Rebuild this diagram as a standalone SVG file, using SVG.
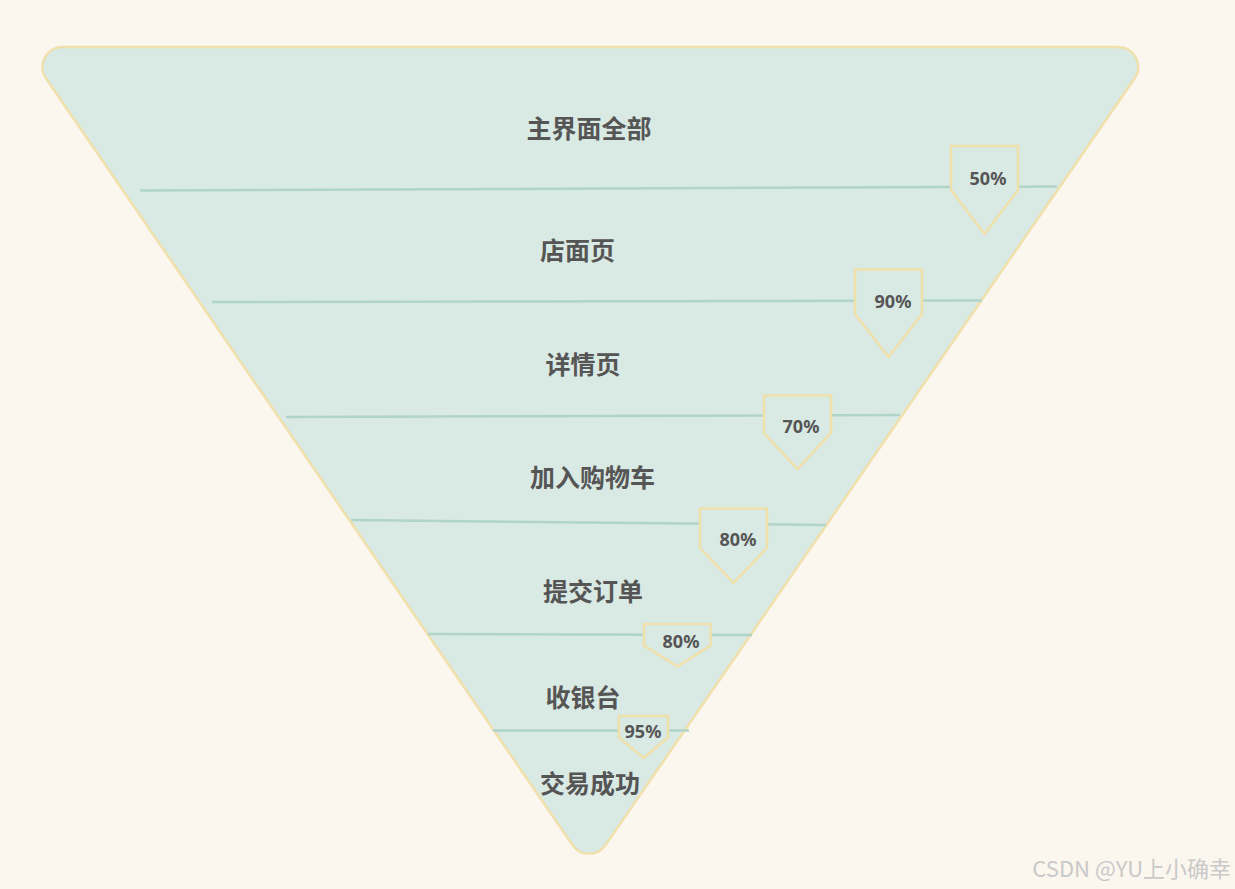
<svg xmlns="http://www.w3.org/2000/svg" width="1235" height="889" viewBox="0 0 1235 889">
<style>
.label{font-family:"Noto Sans CJK SC","Noto Sans",sans-serif;font-weight:bold;font-size:25px;fill:#555555;text-anchor:middle;dominant-baseline:central}
.pct{font-family:"Noto Sans","Noto Sans CJK SC",sans-serif;font-weight:bold;font-size:18px;fill:#555555;text-anchor:middle;dominant-baseline:central}
.sep{stroke:#b1d4c8;stroke-width:2.5;fill:none}
.badge{fill:#d9e9e3;stroke:#f0e0ab;stroke-width:2.5;stroke-linejoin:miter}
.wm{font-family:"Noto Sans CJK SC","Liberation Sans",sans-serif;font-size:22px;fill:#c9c9c9;text-anchor:end}
</style>
<rect width="1235" height="889" fill="#fbf6ee"/>
<g id="funnel">
<path d="M62.4,47 L1118.3,47 A20,20 0 0 1 1134.7,78.3 L605.5,845.1 A20,20 0 0 1 572.6,845.1 L45.9,78.3 A20,20 0 0 1 62.4,47 Z" fill="#d9e9e3" stroke="#f0e0ab" stroke-width="2.5"/>
</g>
<g id="connectors">
<path class="sep" d="M140,190.5 L1057,186.5"/>
<path class="sep" d="M212,302 L982,300.5"/>
<path class="sep" d="M286,417 L900,415"/>
<path class="sep" d="M351,520 L826,525"/>
<path class="sep" d="M428,634 L752,635"/>
<path class="sep" d="M493,730.5 L689,730.5"/>
</g>
<g id="stage1"><text class="label" x="589" y="127">主界面全部</text></g>
<g id="stage2"><text class="label" x="577.5" y="249">店面页</text></g>
<g id="stage3"><text class="label" x="583" y="363">详情页</text></g>
<g id="stage4"><text class="label" x="592.5" y="476">加入购物车</text></g>
<g id="stage5"><text class="label" x="593" y="590">提交订单</text></g>
<g id="stage6"><text class="label" x="583" y="695.5">收银台</text></g>
<g id="stage7"><text class="label" x="590" y="782">交易成功</text></g>
<g id="badge1"><path class="badge" d="M951,146 L1018,146 L1018,190 L984.5,234 L951,190 Z"/><text class="pct" x="988" y="177.5">50%</text></g>
<g id="badge2"><path class="badge" d="M855,269.5 L922,269.5 L922,314 L888.5,357 L855,314 Z"/><text class="pct" x="893" y="300.5">90%</text></g>
<g id="badge3"><path class="badge" d="M764,395.5 L831,395.5 L831,433 L797.5,469 L764,433 Z"/><text class="pct" x="801" y="425.5">70%</text></g>
<g id="badge4"><path class="badge" d="M700,508.5 L767,508.5 L767,548 L733.5,583 L700,548 Z"/><text class="pct" x="738" y="539">80%</text></g>
<g id="badge5"><path class="badge" d="M644,624 L710.5,624 L710.5,645.5 L677.5,666.5 L644,645.5 Z"/><text class="pct" x="681" y="641">80%</text></g>
<g id="badge6"><path class="badge" d="M619,716 L668,716 L668,737.5 L643.5,758 L619,737.5 Z"/><text class="pct" x="643" y="730.5">95%</text></g>
<text class="wm" x="1231" y="877">CSDN @YU上小确幸</text>
</svg>
